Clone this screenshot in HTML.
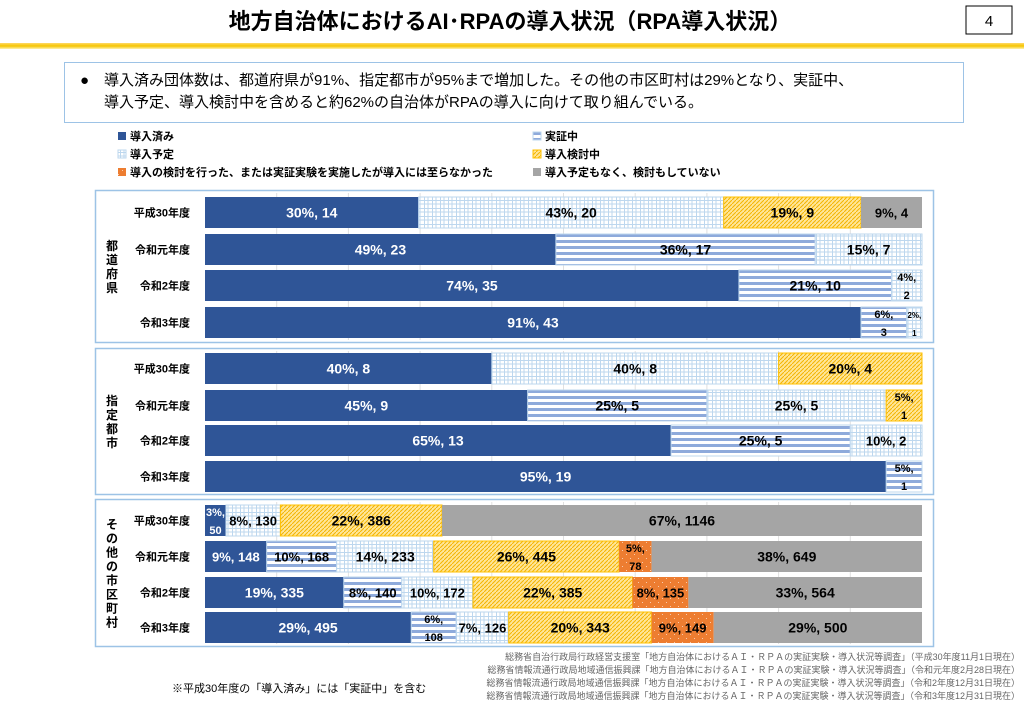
<!DOCTYPE html>
<html><head><meta charset="utf-8"><style>
body{margin:0;background:#fff;}
svg{display:block;font-family:"Liberation Sans","Noto Sans CJK JP",sans-serif;}
</style></head><body>
<svg id="chart" width="1024" height="709" viewBox="0 0 1024 709" xmlns="http://www.w3.org/2000/svg">
<defs>
<linearGradient id="yl" x1="0" y1="0" x2="0" y2="1"><stop offset="0" stop-color="#ffd966"/><stop offset="0.5" stop-color="#f5c400"/><stop offset="1" stop-color="#fff2b0"/></linearGradient>
<pattern id="pStripe" width="8" height="6" patternUnits="userSpaceOnUse"><rect width="8" height="6" fill="#fff"/><rect y="0" width="8" height="3" fill="#8eaadb"/></pattern>
<pattern id="pGrid" width="8" height="8" patternUnits="userSpaceOnUse"><rect width="8" height="8" fill="#fff"/><path d="M0 0.5H8M0.5 0V8M0 4H8M4 0V8" stroke="#bdd7ee" stroke-width="1"/></pattern>
<pattern id="pHatch" width="4" height="4" patternUnits="userSpaceOnUse"><rect width="4" height="4" fill="#ffe699"/><path d="M0 4L4 0" stroke="#f4b400" stroke-width="1"/></pattern>
<pattern id="pDot" width="8" height="8" patternUnits="userSpaceOnUse"><rect width="8" height="8" fill="#ed7d31"/><rect x="2" y="2" width="1" height="1" fill="#f8cbad"/><rect x="6" y="6" width="1" height="1" fill="#f8cbad"/></pattern>
</defs>
<text x="510" y="29" text-anchor="middle" font-size="22" font-weight="bold" fill="#000">地方自治体におけるAI･RPAの導入状況（RPA導入状況）</text>
<rect x="966" y="6" width="46" height="28" fill="#fff" stroke="#000" stroke-width="1"/>
<text x="989" y="26" text-anchor="middle" font-size="15">4</text>
<rect x="0" y="43" width="1024" height="6" fill="url(#yl)"/>
<rect x="64.5" y="62.5" width="899" height="60" fill="#fff" stroke="#9dc3e6"/>
<text x="80" y="85" font-size="15">●　導入済み団体数は、都道府県が91%、指定都市が95%まで増加した。その他の市区町村は29%となり、実証中、</text>
<text x="104" y="107" font-size="15">導入予定、導入検討中を含めると約62%の自治体がRPAの導入に向けて取り組んでいる。</text>
<g id="legend" font-size="11" font-weight="bold"></g>
<g id="panels"></g>
<text x="172" y="692" font-size="11">※平成30年度の「導入済み」には「実証中」を含む</text>
<g font-size="9" fill="#666" text-anchor="end">
<text x="1020" y="660">総務省自治行政局行政経営支援室「地方自治体におけるＡＩ・ＲＰＡの実証実験・導入状況等調査」（平成30年度11月1日現在）</text>
<text x="1020" y="673">総務省情報流通行政局地域通信振興課「地方自治体におけるＡＩ・ＲＰＡの実証実験・導入状況等調査」（令和元年度2月28日現在）</text>
<text x="1020" y="686">総務省情報流通行政局地域通信振興課「地方自治体におけるＡＩ・ＲＰＡの実証実験・導入状況等調査」（令和2年度12月31日現在）</text>
<text x="1020" y="699">総務省情報流通行政局地域通信振興課「地方自治体におけるＡＩ・ＲＰＡの実証実験・導入状況等調査」（令和3年度12月31日現在）</text>
</g>
</svg>
<script>
const seriesNames=["導入済み","実証中","導入予定","導入検討中","導入の検討を行った、または実証実験を実施したが導入には至らなかった","導入予定もなく、検討もしていない"];
const years=["平成30年度","令和元年度","令和2年度","令和3年度"];
const groups=["都道府県","指定都市","その他の市区町村"];
const prefCounts=[[14,0,20,9,0,4],[23,17,7,0,0,0],[35,10,2,0,0,0],[43,3,1,0,0,0]];
const prefPcts=[[30,0,43,19,0,9],[49,36,15,0,0,0],[74,21,4,0,0,0],[91,6,2,0,0,0]];
const cityCounts=[[8,0,8,4,0,0],[9,5,5,1,0,0],[13,5,2,0,0,0],[19,1,0,0,0,0]];
const cityPcts=[[40,0,40,20,0,0],[45,25,25,5,0,0],[65,25,10,0,0,0],[95,5,0,0,0,0]];
const muniCounts=[[50,0,130,386,0,1146],[148,168,233,445,78,649],[335,140,172,385,135,564],[495,108,126,343,149,500]];
const muniPcts=[[3,0,8,22,0,67],[9,10,14,26,5,38],[19,8,10,22,8,33],[29,6,7,20,9,29]];

const NS="http://www.w3.org/2000/svg";
const fills=["#2f5597","url(#pStripe)","url(#pGrid)","url(#pHatch)","url(#pDot)","#a5a5a5"];
const strokes=["none","#bdd7ee","#bdd7ee","#ffc000","none","none"];
const X0=205,X1=922;
const xs=v=>X0+(X1-X0)*v;
function mk(tag,attrs,parent){const e=document.createElementNS(NS,tag);for(const k in attrs)e.setAttribute(k,attrs[k]);parent.appendChild(e);return e;}

const lg=document.getElementById('legend');
const legPos=[[118,140],[533,140],[118,158],[533,158],[118,176],[533,176]];
seriesNames.forEach((n,i)=>{
  const g=mk('g',{},lg);
  
  
  mk('rect',{x:legPos[i][0],y:legPos[i][1]-8,width:8,height:8,fill:fills[i],stroke:strokes[i]==="none"?"none":strokes[i]},g);
  const t=mk('text',{x:legPos[i][0]+12,y:legPos[i][1]},g);t.textContent=n;
});

const panels=[
 {top:190,bot:342,counts:prefCounts,pcts:prefPcts,rowsY:[197,234,270,307],name:"prefectures"},
 {top:348,bot:494,counts:cityCounts,pcts:cityPcts,rowsY:[353,390,425,461],name:"designated-cities"},
 {top:499,bot:646,counts:muniCounts,pcts:muniPcts,rowsY:[505,541,577,612],name:"other-municipalities"}];
const pg=document.getElementById('panels');
panels.forEach((p,pi)=>{
  const g=mk('g',{},pg);
  
  
  mk('rect',{x:95.5,y:p.top+0.5,width:838,height:p.bot-p.top,fill:"#fff",stroke:"#9dc3e6","stroke-width":1.5},g);
  for(let k=1;k<=9;k++){const gl=mk('line',{x1:xs(k/10),x2:xs(k/10),y1:p.top+3,y2:p.bot-2,stroke:"#e0e0e0"},g);
    }
  const chars=[...groups[pi]];const cy=(p.top+p.bot)/2,step=14;
  chars.forEach((c,ci)=>{const t=mk('text',{x:112,y:cy-(chars.length-1)*step/2+ci*step+5,"font-size":12,"font-weight":"bold","text-anchor":"middle"},g);t.textContent=c;
    });
  p.counts.forEach((row,ri)=>{
    const tot=row.reduce((a,b)=>a+b,0);const y=p.rowsY[ri],h=31;
    const yl=mk('text',{x:190,y:y+h/2+4,"font-size":11,"font-weight":"bold","text-anchor":"end"},g);yl.textContent=years[ri];
    
    let acc=0;
    row.forEach((c,si)=>{
      if(!c)return;
      const xa=xs(acc/tot),xb=xs((acc+c)/tot);acc+=c;
      const r=mk('rect',{x:xa,y:y,width:xb-xa,height:h,fill:fills[si],stroke:strokes[si],"stroke-width":strokes[si]==="none"?0:1},g);
      
      const w=xb-xa,pc=p.pcts[ri][si];const col=si===0?"#fff":"#000";
      const lab=pc+"%, "+c;
      if(w>=50){const fs=w<80?13:14;const t=mk('text',{x:(xa+xb)/2,y:y+h/2+5,"font-size":fs,"font-weight":"bold","text-anchor":"middle",fill:col},g);t.textContent=lab;
        }
      else{const fs=w<20?8:11;
        const t1=mk('text',{x:(xa+xb)/2,y:y+11,"font-size":fs,"font-weight":"bold","text-anchor":"middle",fill:col},g);t1.textContent=pc+"%,";
        
        const t2=mk('text',{x:(xa+xb)/2,y:y+h-2,"font-size":fs,"font-weight":"bold","text-anchor":"middle",fill:col},g);t2.textContent=c;
        }
    });
  });
});
</script>
</body></html>
